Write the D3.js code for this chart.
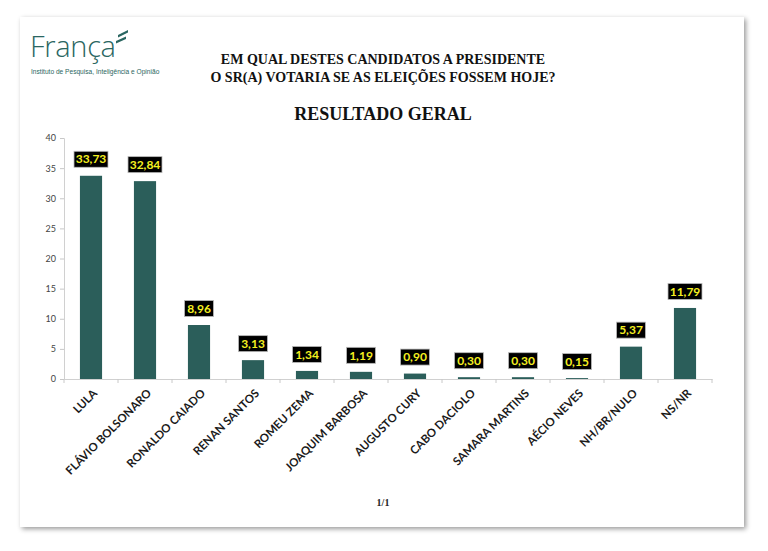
<!DOCTYPE html>
<html>
<head>
<meta charset="utf-8">
<script src="https://cdn.jsdelivr.net/npm/d3@7"></script>
<style>
  body { margin: 0; background: #fff; }
  svg { display: block; }
</style>
</head>
<body>
<svg id="chart" width="768" height="551"></svg>
<script>
// candidates and percentages
var candidates = ["LULA", "FLÁVIO BOLSONARO", "RONALDO CAIADO", "RENAN SANTOS", "ROMEU ZEMA",
  "JOAQUIM BARBOSA", "AUGUSTO CURY", "CABO DACIOLO", "SAMARA MARTINS", "AÉCIO NEVES",
  "NH/BR/NULO", "NS/NR"];
var percents = [33.73, 32.84, 8.96, 3.13, 1.34, 1.19, 0.90, 0.30, 0.30, 0.15, 5.37, 11.79];
var yTicks = [0, 5, 10, 15, 20, 25, 30, 35, 40];
var titleLines = ["EM QUAL DESTES CANDIDATOS A PRESIDENTE", "O SR(A) VOTARIA SE AS ELEIÇÕES FOSSEM HOJE?"];

var svg = d3.select("#chart");

// page card with soft shadow
var defs = svg.append("defs");
var f = defs.append("filter").attr("id", "shadow").attr("x", "-5%").attr("y", "-5%").attr("width", "110%").attr("height", "110%");
f.append("feDropShadow").attr("dx", 2).attr("dy", 2).attr("stdDeviation", 2.5).attr("flood-color", "#000").attr("flood-opacity", 0.4);

svg.append("rect")
  .attr("x", 20).attr("y", 17).attr("width", 724).attr("height", 510)
  .attr("fill", "#fff").attr("filter", "url(#shadow)");

// logo
var logo = svg.append("g");
logo.append("text")
  .attr("x", 30).attr("y", 57)
  .attr("font-family", "'Open Sans', sans-serif").attr("font-size", 29).attr("font-weight", 300)
  .attr("fill", "#2a6661").attr("letter-spacing", -0.3)
  .text("França");
logo.append("path").attr("d", "M118,35 L128,30 L128,32.5 L118,37.5 Z").attr("fill", "#2a6661");
logo.append("path").attr("d", "M116,41 L126,36.5 L126,39 L116,43.5 Z").attr("fill", "#2a6661");
logo.append("text")
  .attr("x", 31).attr("y", 74)
  .attr("font-family", "'Liberation Sans Narrow', 'Liberation Sans', sans-serif").attr("font-size", 6.6)
  .attr("fill", "#2a6661")
  .text("Instituto de Pesquisa, Inteligência e Opinião");

// titles
svg.selectAll(".title-line")
  .data(titleLines)
  .enter().append("text")
  .attr("class", "title-line")
  .attr("x", 383).attr("y", function (d, i) { return 64 + i * 17.5; })
  .attr("text-anchor", "middle")
  .attr("font-family", "'Liberation Serif', 'Times New Roman', serif")
  .attr("font-size", 14).attr("font-weight", "bold").attr("fill", "#111")
  .text(function (d) { return d; });

svg.append("text")
  .attr("x", 383).attr("y", 120)
  .attr("text-anchor", "middle")
  .attr("font-family", "'Liberation Serif', 'Times New Roman', serif")
  .attr("font-size", 18).attr("font-weight", "bold").attr("fill", "#111")
  .text("RESULTADO GERAL");

svg.append("text")
  .attr("x", 383).attr("y", 506)
  .attr("text-anchor", "middle")
  .attr("font-family", "'Liberation Serif', 'Times New Roman', serif")
  .attr("font-size", 10).attr("font-weight", "bold").attr("fill", "#222")
  .text("1/1");

// scales
var x = d3.scaleBand().domain(candidates).range([64, 712]).paddingInner(0.59).paddingOuter(0.295);
var xb = d3.scaleBand().domain(candidates).range([64, 712]);
var y = d3.scaleLinear().domain([0, 40]).range([379, 138]);

// y axis
var yAxis = svg.append("g")
  .attr("transform", "translate(64,0)")
  .call(d3.axisLeft(y).tickValues(yTicks).tickSize(4).tickPadding(4));
yAxis.select(".domain").attr("stroke", "#d0d0d0");
yAxis.selectAll(".tick line").attr("stroke", "#c8c8c8");
yAxis.selectAll(".tick text")
  .attr("font-family", "Lato, 'Open Sans', sans-serif").attr("font-size", 9).attr("fill", "#444");

// x axis baseline and category ticks
var xAxis = svg.append("g")
  .attr("transform", "translate(0,379)")
  .call(d3.axisBottom(xb).tickSize(0).tickFormat(""));
xAxis.select(".domain").attr("stroke", "#d0d0d0");
xAxis.selectAll(".tick").remove();
xAxis.selectAll(".sep")
  .data(d3.range(candidates.length + 1))
  .enter().append("line")
  .attr("class", "sep")
  .attr("x1", function (i) { return 64 + i * xb.step(); })
  .attr("x2", function (i) { return 64 + i * xb.step(); })
  .attr("y1", 0).attr("y2", 4)
  .attr("stroke", "#c8c8c8");

// bars
svg.selectAll(".bar")
  .data(percents)
  .enter().append("rect")
  .attr("class", "bar")
  .attr("x", function (d, i) { return x(candidates[i]); })
  .attr("y", function (d) { return y(d); })
  .attr("width", x.bandwidth())
  .attr("height", function (d) { return y(0) - y(d); })
  .attr("fill", "#2b5e5a");

// category labels
svg.selectAll(".cat")
  .data(candidates)
  .enter().append("text")
  .attr("class", "cat")
  .attr("transform", function (d) {
    return "translate(" + (x(d) + x.bandwidth() / 2 + 7) + ",394) rotate(-45)";
  })
  .attr("text-anchor", "end")
  .attr("font-family", "Lato, 'Open Sans', sans-serif").attr("font-size", 11.5).attr("font-weight", "bold")
  .attr("fill", "#1a1a1a")
  .text(function (d) { return d; });

// value labels
var fmt = function (v) { return v.toFixed(2).replace(".", ","); };
var lbl = svg.selectAll(".lbl")
  .data(percents)
  .enter().append("g")
  .attr("class", "lbl")
  .attr("transform", function (d, i) {
    return "translate(" + (x(candidates[i]) + x.bandwidth() / 2) + "," + (y(d) - 16.5) + ")";
  });
lbl.append("rect")
  .attr("x", function (d) { return d >= 10 ? -17 : -14.5; })
  .attr("y", -8)
  .attr("width", function (d) { return d >= 10 ? 34 : 29; })
  .attr("height", 16)
  .attr("fill", "#000").attr("stroke", "#bbb").attr("stroke-width", 0.8);
lbl.append("text")
  .attr("y", 4.2)
  .attr("text-anchor", "middle")
  .attr("font-family", "Lato, 'Open Sans', sans-serif").attr("font-size", 12).attr("font-weight", "bold")
  .attr("fill", "#f5f020")
  .text(fmt);
</script>
</body>
</html>
